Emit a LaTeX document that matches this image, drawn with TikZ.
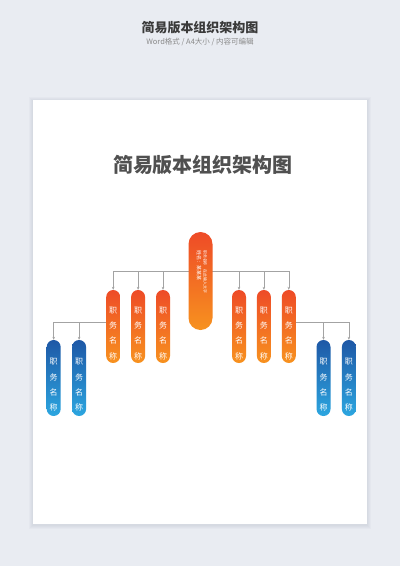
\documentclass[tikz,border=0pt]{standalone}
\usepackage{fontspec}
\newfontfamily\cjk{Noto Sans CJK SC}
\usepackage{tikz}
\usetikzlibrary{positioning, arrows.meta}
\definecolor{pagebg}{HTML}{E9ECF2}
\definecolor{shadowgray}{HTML}{9AA0AE}
\definecolor{headgray}{HTML}{3A3A3A}
\definecolor{subgray}{HTML}{8A8A8A}
\definecolor{titlegray}{HTML}{505050}
\definecolor{linegray}{HTML}{A3A3A3}
\definecolor{orangetop}{HTML}{EE4B27}
\definecolor{orangebot}{HTML}{F7921F}
\definecolor{bluetop}{HTML}{1E58A6}
\definecolor{bluebot}{HTML}{2CA6E0}
\newcommand{\dutytext}{\rule{0pt}{20pt}职\\务\\名\\称}
\tikzset{
  pill/.style={rectangle, rounded corners=7pt, minimum width=14pt, minimum height=73pt, inner sep=0pt, align=center, text=white, font=\cjk\fontsize{8}{15.3}\selectfont},
  orangepill/.style={pill, top color=orangetop, bottom color=orangebot},
  bluepill/.style={pill, minimum height=76pt, top color=bluetop, bottom color=bluebot},
  arrow/.style={-{Stealth[length=3pt, width=2.6pt]}, draw=linegray, line width=0.5pt},
  bosstext/.style={rotate=-90, anchor=west, text=white, inner sep=0pt},
}

\begin{document}
\begin{tikzpicture}[x=1pt, y=-1pt, node distance=10.5pt]
  \fill[pagebg] (0,0) rectangle (400,566);
  \useasboundingbox (0,0) rectangle (400,566);

  % header
  \node[font=\cjk\bfseries\fontsize{13}{15}\selectfont, text=headgray] (head) at (200,28) {简易版本组织架构图};
  \node[font=\cjk\fontsize{7.5}{9}\selectfont, text=subgray] (sub) at (200,42) {Word格式 / A4大小 / 内容可编辑};

  % page with soft shadow
  \foreach \s in {4,3,2,1}
    \fill[shadowgray, opacity=0.06] (33-\s,100-\s+1) rectangle (367+\s,524+\s+1);
  \node[fill=white, minimum width=334pt, minimum height=424pt, inner sep=0pt] (page) at (200,312) {};
  \node[font=\cjk\bfseries\fontsize{20}{22}\selectfont, text=titlegray] (title) at (203,165) {简易版本组织架构图};

  % second level
  \node[orangepill] (l3) at (163,326.5) {\dutytext};
  \node[orangepill, left=of l3] (l2) {\dutytext};
  \node[orangepill, left=of l2] (l1) {\dutytext};
  \node[orangepill] (r1) at (239,326.5) {\dutytext};
  \node[orangepill, right=of r1] (r2) {\dutytext};
  \node[orangepill, right=of r2] (r3) {\dutytext};

  % third level
  \node[bluepill] (bl1) at (53.7,378) {\dutytext};
  \node[bluepill, right=11pt of bl1] (bl2) {\dutytext};
  \node[bluepill] (br1) at (323.5,378) {\dutytext};
  \node[bluepill, right=11pt of br1] (br2) {\dutytext};

  % connectors
  \coordinate (bus) at (200.5,271.5);
  \foreach \n in {l1,l2,l3,r1,r2,r3}
    \draw[arrow] (bus) -| (\n.north);
  \coordinate (lbranch) at ([yshift=4.5pt]l1.west);
  \coordinate (rbranch) at ([yshift=4.5pt]r3.east);
  \draw[arrow] (lbranch) -| (bl1.north);
  \draw[arrow] (lbranch) -| (bl2.north);
  \draw[arrow] (rbranch) -| (br1.north);
  \draw[arrow] (rbranch) -| (br2.north);

  % top
  \node[orangepill, minimum width=24pt, minimum height=98pt, rounded corners=12pt] (boss) at (200.5,281) {};
  \node[bosstext, font=\cjk\fontsize{3.9}{5}\selectfont] (bossjob) at (205,250) {职务名称\quad 在此输入文字};
  \node[bosstext, font=\cjk\fontsize{5}{6}\selectfont] (bossname) at (199,250) {姓名：某某某};
\end{tikzpicture}
\end{document}
